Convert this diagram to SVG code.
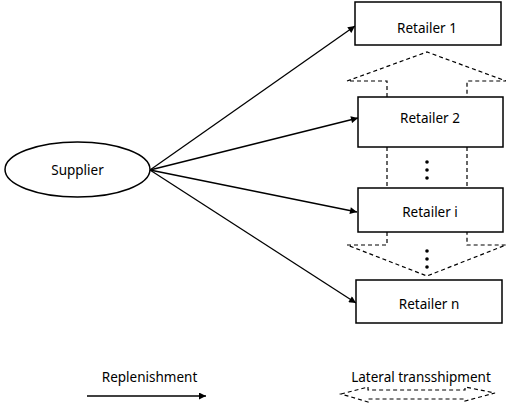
<svg xmlns="http://www.w3.org/2000/svg" width="506" height="403" viewBox="0 0 506 403">
<style>
.box{fill:#fff;stroke:#000;stroke-width:1.5}
.lbl{font-family:"Noto Sans","DejaVu Sans",sans-serif;font-size:13.5px;fill:#000;text-anchor:middle}
.rep{stroke:#000;stroke-width:1.3;fill:none;marker-end:url(#ah)}
.lat{stroke:#000;stroke-width:1.2;fill:none;stroke-dasharray:4,3}
</style>
<defs>
<marker id="ah" viewBox="0 0 10 10" refX="10" refY="5" markerWidth="9" markerHeight="7" markerUnits="userSpaceOnUse" orient="auto">
<path d="M0,0 L10,5 L0,10 z" fill="#000"/>
</marker>
</defs>
<g id="lateral">
<path class="lat" d="M387,97 L387,81 L347,81 L427,52 L506,81 L467,81 L467,97"/>
<path class="lat" d="M387,147 L387,188 M467,147 L467,188"/>
<path class="lat" d="M387,232 L387,245 L347,245 L427,276 L506,245 L467,245 L467,232"/>
</g>
<g id="connectors">
<line class="rep" x1="150" y1="170" x2="355" y2="26"/>
<line class="rep" x1="150" y1="170" x2="358" y2="118"/>
<line class="rep" x1="150" y1="170" x2="357" y2="212"/>
<line class="rep" x1="150" y1="170" x2="356" y2="303"/>
</g>
<g id="supplier">
<ellipse cx="77.5" cy="169.5" rx="72.5" ry="27.5" fill="#fff" stroke="#000" stroke-width="1.5"/>
<text class="lbl" x="77.5" y="175">Supplier</text>
</g>
<g id="retailer1">
<rect class="box" x="355" y="2" width="146" height="43"/>
<text class="lbl" x="427" y="33">Retailer 1</text>
</g>
<g id="retailer2">
<rect class="box" x="358" y="97" width="145" height="50"/>
<text class="lbl" x="430" y="123">Retailer 2</text>
</g>
<g id="retaileri">
<rect class="box" x="358" y="188" width="145" height="44"/>
<text class="lbl" x="430" y="217">Retailer i</text>
</g>
<g id="retailern">
<rect class="box" x="356" y="280" width="146" height="43"/>
<text class="lbl" x="429" y="309">Retailer n</text>
</g>
<g id="dots">
<circle cx="427" cy="162" r="1.8"/>
<circle cx="427" cy="170" r="1.8"/>
<circle cx="427" cy="178" r="1.8"/>
<circle cx="427" cy="251" r="1.8"/>
<circle cx="427" cy="259" r="1.8"/>
<circle cx="427" cy="267" r="1.8"/>
</g>
<g id="legend">
<text class="lbl" x="149.5" y="382">Replenishment</text>
<line class="rep" x1="87" y1="396" x2="206" y2="396"/>
<text class="lbl" x="421" y="382">Lateral transshipment</text>
<path class="lat" d="M341,394 L368,387 L368,390 L465,390 L465,387 L495,393 L465,401 L465,399 L368,399 L368,402 Z" stroke-width="1"/>
</g>
</svg>
